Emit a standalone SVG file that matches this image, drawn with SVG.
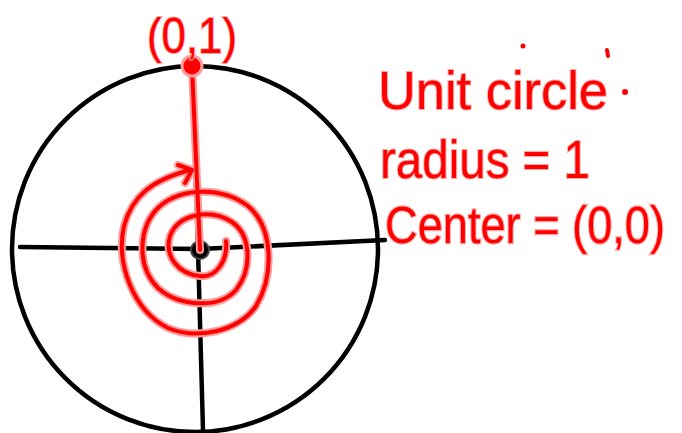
<svg xmlns="http://www.w3.org/2000/svg" width="682" height="433" viewBox="0 0 682 433">
<style>
.ink{fill:none;stroke:#000;stroke-width:4.5;stroke-linecap:round;stroke-linejoin:round}
.halo{fill:none;stroke:#ff9c9c;stroke-width:8;stroke-linecap:round;stroke-linejoin:round}
.red{fill:none;stroke:#ff0000;stroke-width:4;stroke-linecap:round;stroke-linejoin:round}
.txt{font-family:"Liberation Sans",Arial,sans-serif;fill:#ff0000;stroke:#ffa8a8;stroke-width:2;paint-order:stroke;font-weight:normal}
</style>
<rect width="682" height="433" fill="#fff"/>
<g id="circle">
<circle cx="195" cy="249" r="183" class="ink"/>
</g>
<g id="axes">
<path class="ink" d="M20,247 L200,249 L385,240" stroke="#222"/>
<path class="ink" d="M192,66 L198,250 L203,430" stroke="#222"/>
<circle cx="200" cy="250" r="9" fill="#000" stroke="#444" stroke-width="2"/>
</g>
<g id="spiral">
<path class="halo" d="M192,67 L200,250 M226,241 C228,262 215,278 200,276 C178,274 164,256 170,236 C178,214 210,208 232,222 C252,236 252,270 236,290 C218,310 178,306 158,288 C136,266 138,226 160,206 C184,186 224,188 248,206 C274,228 274,276 256,306 C238,332 196,340 168,328 C132,310 116,262 124,226 C132,196 152,180 190,170 M178,165 L192,170 L185,183"/>
<path class="red" d="M192,67 L200,250 M226,241 C228,262 215,278 200,276 C178,274 164,256 170,236 C178,214 210,208 232,222 C252,236 252,270 236,290 C218,310 178,306 158,288 C136,266 138,226 160,206 C184,186 224,188 248,206 C274,228 274,276 256,306 C238,332 196,340 168,328 C132,310 116,262 124,226 C132,196 152,180 190,170 M178,165 L192,170 L185,183"/>
<circle cx="192" cy="66" r="10" fill="#ff0000" stroke="#ff9c9c" stroke-width="3"/>
</g>
<g id="labels">
<text class="txt" x="147" y="53" font-size="50" textLength="90" lengthAdjust="spacingAndGlyphs">(0,1)</text>
<text class="txt" x="378" y="109" font-size="54" textLength="230" lengthAdjust="spacingAndGlyphs">Unit circle</text>
<circle cx="625" cy="92" r="3" fill="#ff0000"/>
<circle cx="523" cy="46" r="2.5" fill="#ff0000"/>
<path class="red" d="M607,50 L608,56"/>
<text class="txt" x="380" y="178" font-size="54" textLength="210" lengthAdjust="spacingAndGlyphs">radius = 1</text>
<text class="txt" transform="translate(385,243) scale(1,1.15)" x="0" y="0" font-size="45" textLength="280" lengthAdjust="spacingAndGlyphs">Center = (0,0)</text>
</g>
</svg>
